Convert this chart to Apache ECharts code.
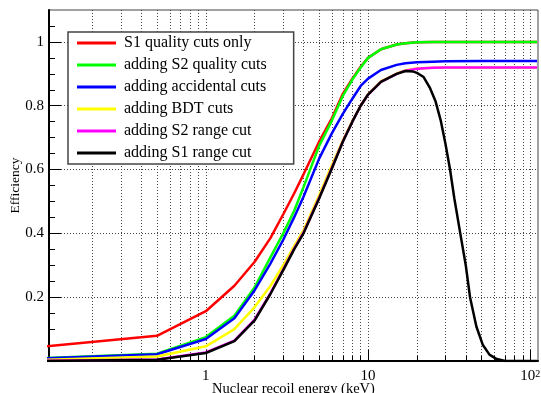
<!DOCTYPE html>
<html>
<head>
<meta charset="utf-8">
<script src="https://cdn.jsdelivr.net/npm/echarts@6/dist/echarts.min.js"></script>
<style>
  html, body { margin: 0; padding: 0; background: #fff; }
  #chart { width: 541px; height: 393px; }
</style>
</head>
<body>
<div id="chart"></div>
<script>
// energies in keV (shared by the first five curves)
const energyKeV = [0.1, 0.5, 1, 1.5, 2, 2.5, 3, 3.5, 4, 5, 6, 7, 8, 9, 10, 12, 15, 17, 20, 25, 30, 50, 110];
const effS1Quality = [0.045, 0.079, 0.156, 0.236, 0.311, 0.385, 0.46, 0.525, 0.585, 0.688, 0.762, 0.838, 0.885, 0.922, 0.95, 0.977, 0.992, 0.996, 0.999, 1.0, 1.0, 1.0, 1.0];
const effS2Quality = [0.009, 0.023, 0.075, 0.142, 0.231, 0.325, 0.40, 0.47, 0.545, 0.675, 0.755, 0.832, 0.882, 0.92, 0.95, 0.977, 0.992, 0.996, 0.999, 1.0, 1.0, 1.0, 1.0];
const effAccidental = [0.008, 0.021, 0.069, 0.134, 0.222, 0.305, 0.38, 0.45, 0.515, 0.635, 0.715, 0.775, 0.822, 0.862, 0.885, 0.912, 0.928, 0.933, 0.936, 0.938, 0.939, 0.94, 0.94];
const effBDT = [0.004, 0.014, 0.046, 0.1, 0.169, 0.235, 0.30, 0.36, 0.41, 0.52, 0.615, 0.692, 0.752, 0.80, 0.836, 0.876, 0.901, 0.911, 0.917, 0.919, 0.92, 0.92, 0.92];
const effS2Range = [0.001, 0.005, 0.027, 0.064, 0.13, 0.212, 0.287, 0.352, 0.403, 0.512, 0.607, 0.689, 0.75, 0.80, 0.835, 0.875, 0.9, 0.91, 0.916, 0.919, 0.92, 0.92, 0.92];

// last curve has its own sampling (drops off above 20 keV)
const energyS1Range = [0.1, 0.5, 1, 1.5, 2, 2.5, 3, 3.5, 4, 5, 6, 7, 8, 9, 10, 12, 15, 17, 19, 20, 22, 24, 26, 28, 30, 32, 34, 37, 40, 42.5, 46.5, 51, 56, 62, 70, 110];
const effS1Range = [0.0, 0.004, 0.025, 0.062, 0.127, 0.21, 0.285, 0.35, 0.40, 0.51, 0.605, 0.688, 0.75, 0.80, 0.835, 0.875, 0.9, 0.909, 0.907, 0.903, 0.89, 0.857, 0.815, 0.755, 0.68, 0.6, 0.51, 0.4, 0.3, 0.2, 0.108, 0.05, 0.02, 0.006, 0.0, 0.0];

const seriesNames = ['S1 quality cuts only', 'adding S2 quality cuts', 'adding accidental cuts', 'adding BDT cuts', 'adding S2 range cut', 'adding S1 range cut'];
const seriesColors = ['#ff0000', '#00ff00', '#0000ff', '#ffff00', '#ff00ff', '#000000'];

// axis ticks (keV / efficiency)
const xMajorTicks = [1, 10, 100];
const xMinorTicks = [0.2, 0.3, 0.4, 0.5, 0.6, 0.7, 0.8, 0.9, 1, 2, 3, 4, 5, 6, 7, 8, 9, 10, 20, 30, 40, 50, 60, 70, 80, 90, 100];
const yMajorTicks = [0.2, 0.4, 0.6, 0.8, 1];
const yMinorTicks = [0.05, 0.1, 0.15, 0.2, 0.25, 0.3, 0.35, 0.4, 0.45, 0.5, 0.55, 0.6, 0.65, 0.7, 0.75, 0.8, 0.85, 0.9, 0.95, 1, 1.05];
const xRange = [0.108, 111.5];
const yRange = [0, 1.1];

// x axis is logarithmic: plot log10(E) on a value axis
const lg = v => Math.log10(v);
const pairs = (xs, ys) => xs.map((x, i) => [lg(x), ys[i]]);

const curves = [
  pairs(energyKeV, effS1Quality),
  pairs(energyKeV, effS2Quality),
  pairs(energyKeV, effAccidental),
  pairs(energyKeV, effBDT),
  pairs(energyKeV, effS2Range),
  pairs(energyS1Range, effS1Range)
];

const serif = 'Liberation Serif';
const dotted = { show: true, lineStyle: { color: '#444', width: 1, type: [1, 2] } };

const chart = echarts.init(document.getElementById('chart'));
chart.setOption({
  animation: false,
  textStyle: { fontFamily: serif },
  grid: {
    left: 49, right: 3, top: 10, bottom: 32,
    outerBoundsMode: 'none', containLabel: false,
    show: true, borderColor: '#444', borderWidth: 1
  },
  legend: {
    orient: 'vertical',
    left: 68, top: 32,
    padding: [3, 27, 3, 9],
    icon: 'rect',
    itemWidth: 39, itemHeight: 3, itemGap: 6,
    backgroundColor: '#fff',
    borderColor: '#444', borderWidth: 1.5,
    textStyle: { fontFamily: serif, fontSize: 16, color: '#000', padding: [0, 0, 0, 3] },
    data: seriesNames
  },
  xAxis: [
    {
      type: 'value', position: 'bottom',
      min: lg(xRange[0]), max: lg(xRange[1]),
      axisLine: { show: true, onZero: false, lineStyle: { color: '#000', width: 2 } },
      axisTick: { inside: true, length: 5, customValues: xMinorTicks.map(lg), lineStyle: { color: '#000' } },
      axisLabel: { show: false },
      splitLine: dotted
    },
    {
      type: 'value', position: 'bottom',
      min: lg(xRange[0]), max: lg(xRange[1]),
      name: 'Nuclear recoil energy (keV)',
      nameLocation: 'middle', nameGap: 21, nameMoveOverlap: false,
      nameTextStyle: { fontFamily: serif, fontSize: 14.5, color: '#000' },
      axisLine: { show: false, onZero: false },
      axisTick: { inside: true, length: 11, customValues: xMajorTicks.map(lg), lineStyle: { color: '#000' } },
      axisLabel: {
        customValues: xMajorTicks.map(lg),
        margin: 8,
        fontFamily: serif, fontSize: 15, color: '#000',
        formatter: v => {
          const p = Math.round(v);
          return p < 2 ? String(Math.pow(10, p)) : '10{sup|' + p + '}';
        },
        rich: { sup: { fontFamily: serif, fontSize: 10, verticalAlign: 'top', color: '#000' } }
      },
      splitLine: { show: false }
    }
  ],
  yAxis: [
    {
      type: 'value', position: 'left',
      min: yRange[0], max: yRange[1],
      axisLine: { show: true, onZero: false, lineStyle: { color: '#000', width: 2 } },
      axisTick: { inside: true, length: 6, customValues: yMinorTicks, lineStyle: { color: '#000' } },
      axisLabel: { show: false },
      splitLine: { show: false }
    },
    {
      type: 'value', position: 'left',
      min: yRange[0], max: yRange[1],
      name: 'Efficiency',
      nameLocation: 'middle', nameGap: 27, nameMoveOverlap: false,
      nameTextStyle: { fontFamily: serif, fontSize: 13.5, color: '#000' },
      axisLine: { show: false, onZero: false },
      axisTick: { inside: true, length: 12, customValues: yMajorTicks, lineStyle: { color: '#000' } },
      axisLabel: {
        customValues: yMajorTicks,
        margin: 5,
        fontFamily: serif, fontSize: 15, color: '#000',
        formatter: v => String(+v.toFixed(1))
      },
      splitLine: dotted
    }
  ],
  series: curves.map((data, i) => ({
    name: seriesNames[i],
    type: 'line',
    xAxisIndex: 0,
    yAxisIndex: 0,
    symbol: 'none',
    color: seriesColors[i],
    lineStyle: { color: seriesColors[i], width: 2.5 },
    data: data
  }))
});
</script>
</body>
</html>
